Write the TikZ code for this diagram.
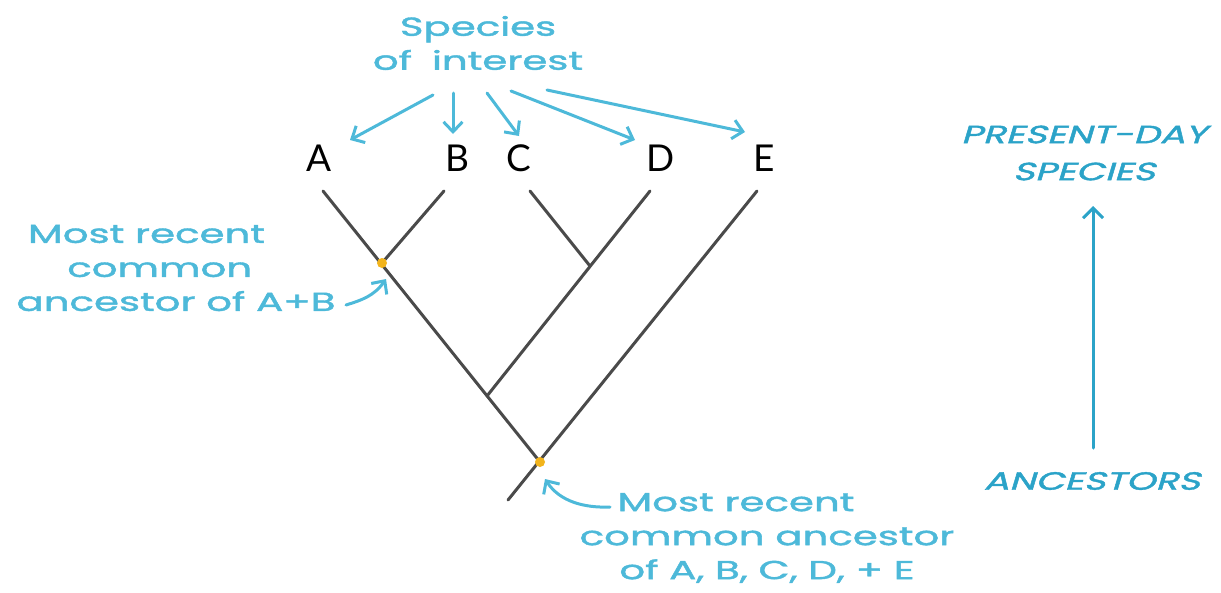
\documentclass[tikz,border=0pt]{standalone}
\usepackage{fontspec}
\setmainfont{Lato}
\newfontfamily\hand[FakeBold=1.4]{Poppins}
\newfontfamily\handcaps[FakeSlant=0.2,FakeBold=1.4]{Poppins}
\usetikzlibrary{arrows.meta}
\definecolor{cy}{HTML}{4DB9D9}
\definecolor{cyd}{HTML}{2BA3C8}
\definecolor{br}{HTML}{4A4A4A}
\definecolor{yl}{HTML}{F2B41C}
\tikzset{
  branch/.style={br, line width=3pt, line cap=round},
  tip/.style={font=\fontsize{37}{37}\selectfont, inner sep=0pt, anchor=base},
  note/.style={cy, font=\hand\fontsize{26}{34}\selectfont, inner sep=0pt, align=center, xscale=1.55, transform shape},
  capnote/.style={cyd, font=\handcaps\fontsize{25}{37}\selectfont, inner sep=0pt, align=center, xscale=1.5, transform shape},
  harrow/.style={cy, line width=3pt, line cap=round, -{Straight Barb[length=10pt,width=19pt,line width=3pt]}},
  dot/.style={circle, fill=yl, inner sep=0pt, minimum size=10pt}
}
\begin{document}
\begin{tikzpicture}[x=1pt,y=-1pt]
\useasboundingbox (0,0) rectangle (1221,592);
% tips
\node[tip] (A) at (319,171) {A};
\node[tip] (B) at (457,171) {B};
\node[tip] (C) at (519,171) {C};
\node[tip] (D) at (661,171) {D};
\node[tip] (E) at (764,171) {E};
\coordinate (tA) at (323,191);
\coordinate (tB) at (444,191);
\coordinate (tC) at (530,191);
\coordinate (tD) at (650,191);
\coordinate (tE) at (757,191);
\coordinate (nAB) at (382,263);
\coordinate (nCD) at (590,266);
\coordinate (nABCD) at (487,396);
\coordinate (root) at (540,462);
\coordinate (stem) at (508,500);
\draw[branch] (tA) -- (root);
\draw[branch] (tB) -- (nAB);
\draw[branch] (tC) -- (nCD);
\draw[branch] (tD) -- (nABCD);
\draw[branch] (tE) -- (stem);
\node[dot] (dAB) at (nAB) {};
\node[dot] (dR) at (root) {};
% species of interest
\node[note] (soi) at (478,43) {Species\\of\hspace{6pt} interest};
\coordinate (sA) at (433,95);
\coordinate (sB) at (453,93);
\coordinate (sC) at (487,93);
\coordinate (sD) at (511,91);
\coordinate (sE) at (547,90);
\coordinate (eA) at (350,140);
\coordinate (eB) at (453,134);
\coordinate (eC) at (519,136);
\coordinate (eD) at (635,140);
\coordinate (eE) at (745,132);
\draw[harrow] (sA) -- (eA);
\draw[harrow] (sB) -- (eB);
\draw[harrow] (sC) -- (eC);
\draw[harrow] (sD) -- (eD);
\draw[harrow] (sE) -- (eE);
% MRCA A+B
\node[note] (mab) at (176,268) {Most recent\rule{38pt}{0pt}\\common\rule{21pt}{0pt}\\ancestor of A+B};
\coordinate (mabs) at (346,305);
\coordinate (mabe) at (386,279);
\draw[harrow] (mabs) .. controls (362,300) and (374,296) .. (mabe);
% MRCA root
\node[note] (mr) at (767,538) {Most recent\rule{40pt}{0pt}\\common ancestor\\of A, B, C, D, + E};
\coordinate (mrs) at (610,507);
\coordinate (mre) at (545,479);
\draw[harrow] (mrs) .. controls (585,508) and (560,502) .. (mre);
% time axis
\node[capnote] (pds) at (1084,153) {PRESENT-DAY\\SPECIES};
\node[capnote] (anc) at (1092,481) {ANCESTORS};
\coordinate (ax0) at (1093,448);
\coordinate (ax1) at (1093,206);
\draw[cyd, line width=3pt, line cap=round, -{Straight Barb[length=10pt,width=20pt,line width=3pt]}] (ax0) -- (ax1);
\end{tikzpicture}
\end{document}
